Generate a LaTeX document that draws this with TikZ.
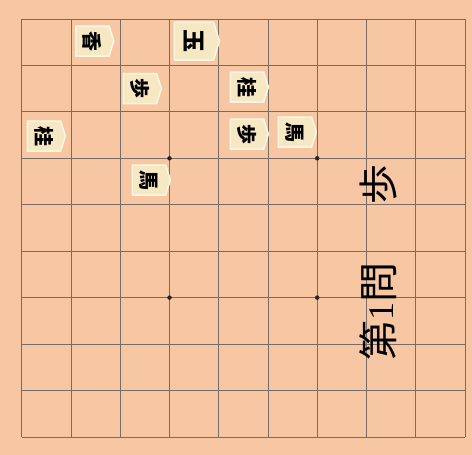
\documentclass[tikz,border=0pt]{standalone}
\usepackage{fontspec}
\usepackage{graphicx}
\newfontfamily\cjk{Noto Sans CJK JP}
\newfontfamily\numfont{Liberation Serif}
\usetikzlibrary{shapes.symbols}
\definecolor{wood}{RGB}{246,199,162}
\definecolor{gridgray}{RGB}{120,106,100}
\definecolor{piececream}{RGB}{245,232,194}
\definecolor{pieceedge}{RGB}{252,247,228}
\newcommand{\komaji}[1]{\rotatebox[origin=c]{-90}{#1}}

\begin{document}
\begin{tikzpicture}[x=1pt, y=-1pt,
  koma/.style={shape=signal, signal to=east, signal pointer angle=145, fill=piececream, draw=pieceedge, line width=1.5pt, inner sep=0pt, minimum width=38pt, minimum height=30pt, font=\cjk\bfseries\fontsize{20}{20}\selectfont},
  ou/.style={koma, minimum width=45pt, minimum height=38pt, font=\cjk\bfseries\fontsize{23}{23}\selectfont},
  star/.style={circle, fill=black!85, inner sep=0pt, minimum size=4.5pt},
  title/.style={font=\cjk\fontsize{40}{40}\selectfont, rotate=90, inner sep=0pt}
]
\useasboundingbox (0,0) rectangle (472,455);
\fill[wood] (0,0) rectangle (472,455);
% board
\foreach \i in {0,...,9} {
  \draw[gridgray, line width=0.9pt] (21.7+49.26*\i,19) -- (21.7+49.26*\i,437);
  \draw[gridgray, line width=0.9pt] (21.7,19+46.44*\i) -- (465,19+46.44*\i);
}
\node[star] (s1) at (169.5,158.3) {};
\node[star] (s2) at (317.2,158.3) {};
\node[star] (s3) at (169.5,297.6) {};
\node[star] (s4) at (317.2,297.6) {};
% pieces
\node[koma] (kyo) at (92.5,41) {\komaji{香}};
\node[ou] (gyoku) at (194,41) {\komaji{玉}};
\node[koma] (fu1) at (140,88.5) {\komaji{歩}};
\node[koma] (kei1) at (247,87) {\komaji{桂}};
\node[koma] (kei2) at (44,136) {\komaji{桂}};
\node[koma] (fu2) at (247,134) {\komaji{歩}};
\node[koma] (uma1) at (295,132) {\komaji{馬}};
\node[koma] (uma2) at (149,180) {\komaji{馬}};
% caption
\node[title] (mondai) at (378,311) {第{\numfont\fontsize{36}{36}\selectfont 1}問};
\node[title] (mochigoma) at (378,184) {歩};
\end{tikzpicture}
\end{document}
